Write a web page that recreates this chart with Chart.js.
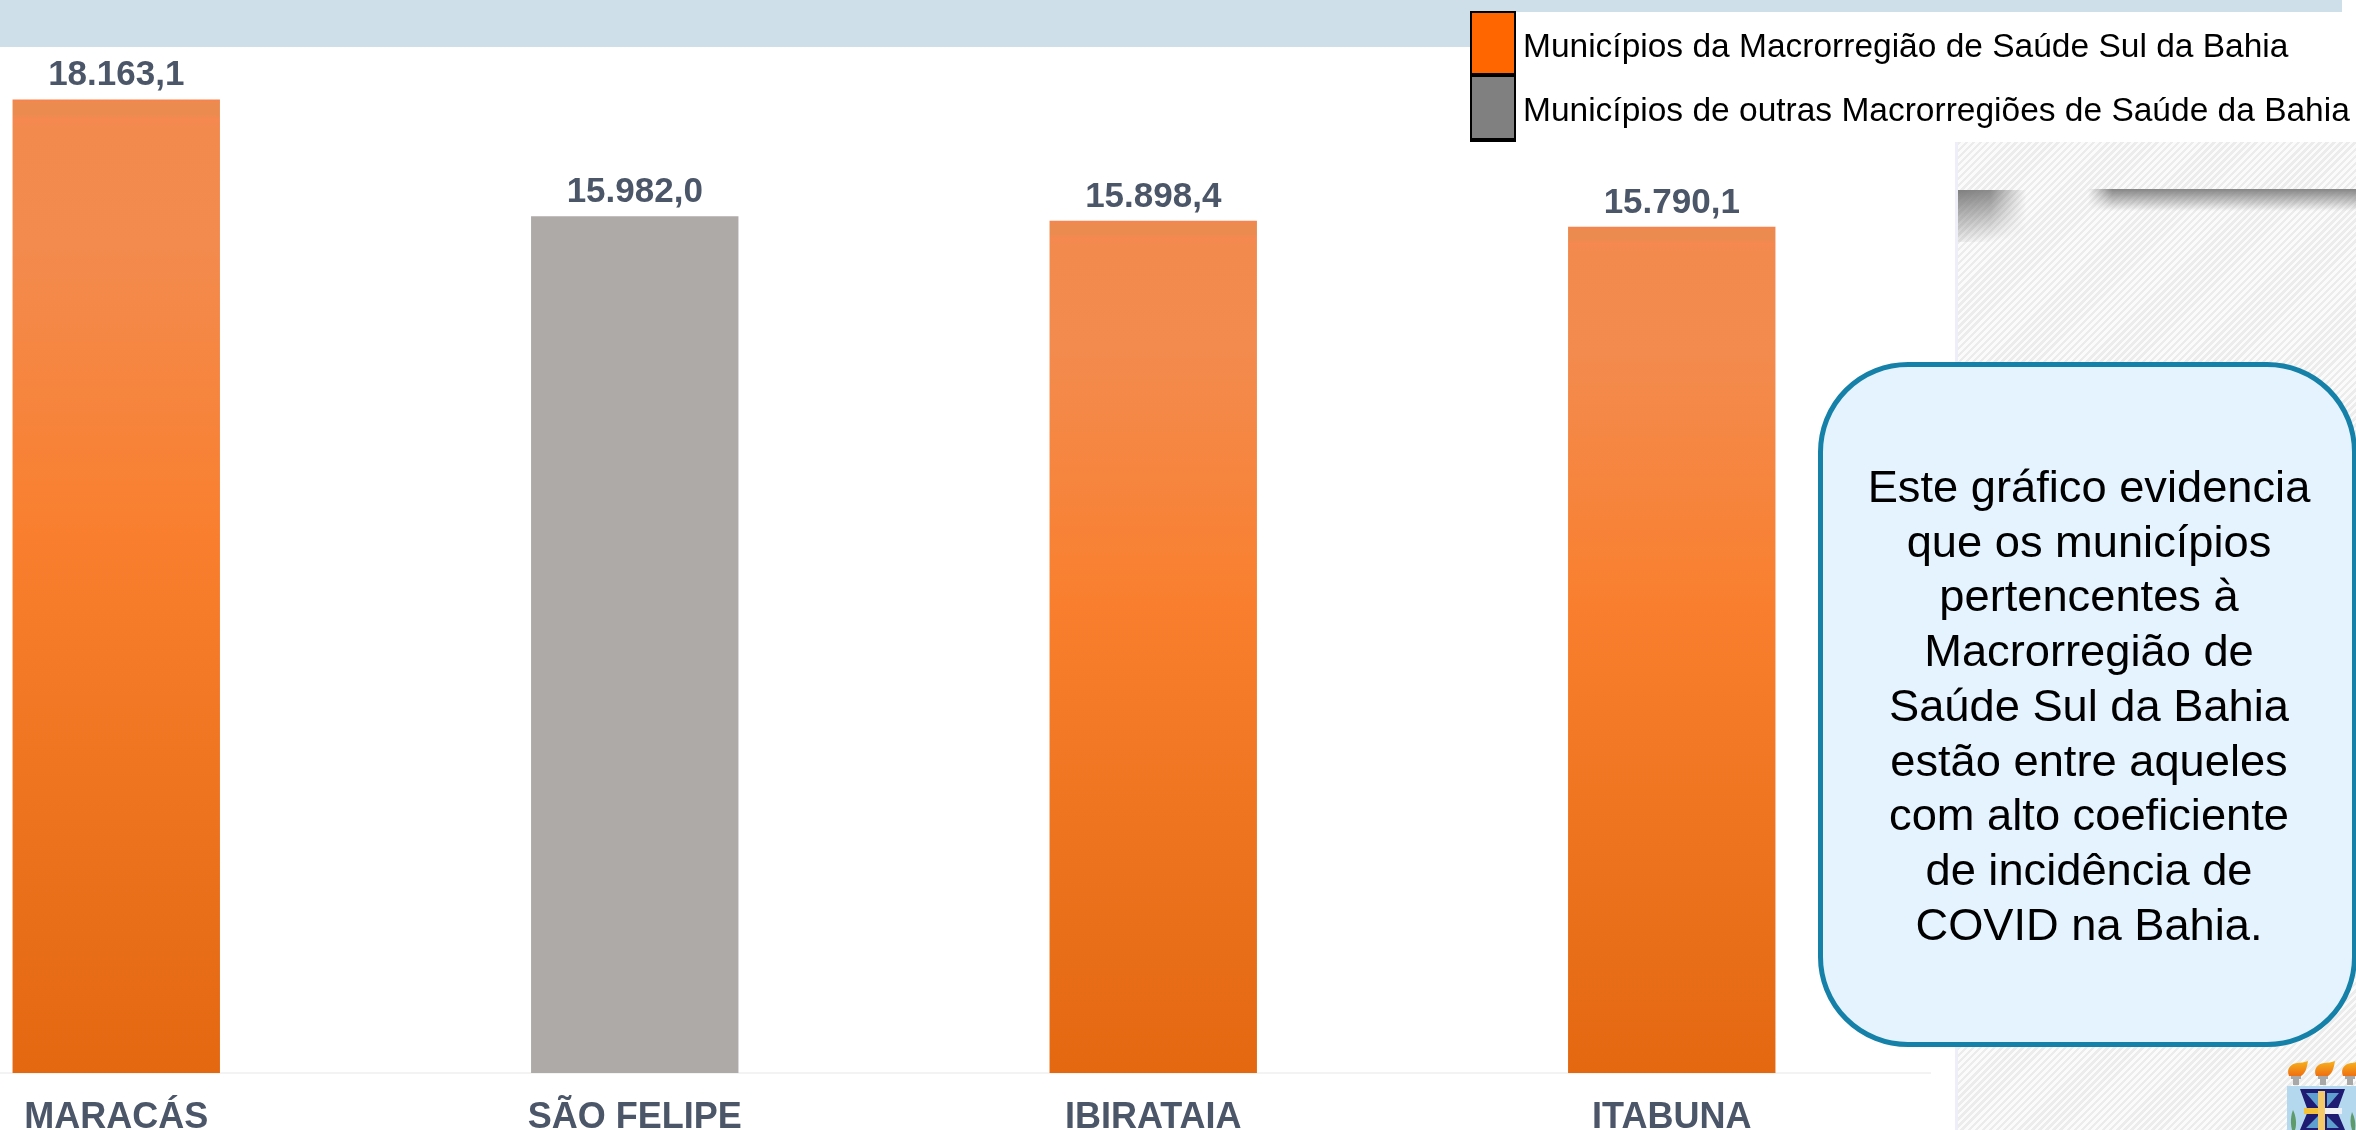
<!DOCTYPE html>
<html lang="pt-BR">
<head>
<meta charset="UTF-8">
<title>Coeficiente de incidência</title>
<script src="https://cdn.jsdelivr.net/npm/chart.js"></script>
<style>
  html, body { margin: 0; padding: 0; background: #fff; overflow: hidden; }
  body { width: 2356px; height: 1130px; position: relative; font-family: "Liberation Sans", Arial, sans-serif; }
  .abs { position: absolute; }
  #faixa1 { left: 0; top: 0; width: 1470px; height: 47px; background: #cfdfe9; }
  #faixa2 { left: 1470px; top: 0; width: 872px; height: 12px; background: #cfdfe9; }
  #hachura {
    left: 1955px; top: 142px; width: 401px; height: 988px; box-sizing: border-box;
    border-left: 3px solid #eeeef8;
    background: repeating-linear-gradient(135deg, #ececec 0, #ececec 2.5px, #fbfbfb 2.5px, #fbfbfb 5px);
  }
  #sombra1 {
    left: 1958px; top: 190px; width: 72px; height: 52px;
    background: linear-gradient(170deg, #7f7f7f 0, rgba(200,200,200,0) 90%);
    -webkit-mask-image: linear-gradient(to right, #000 45%, transparent 95%);
  }
  #sombra2 {
    left: 2088px; top: 189px; width: 268px; height: 22px;
    background: linear-gradient(180deg, #858585 0, rgba(200,200,200,0) 100%);
    -webkit-mask-image: linear-gradient(to right, transparent 0, #000 9%);
  }
  #canvasBox { left: -143px; top: 0; width: 2074px; height: 1130px; }
  .cx { left: 1470px; width: 46px; box-sizing: border-box; border: 2px solid #000; }
  #cx1 { top: 11px; height: 66px; background: #ff6600; border-bottom-width: 4px; }
  #cx2 { top: 77px; height: 65px; background: #808080; border-top: 0; border-bottom-width: 4px; }
  .leg { left: 1523px; font-size: 33.5px; line-height: 40px; color: #000; white-space: nowrap; }
  #balao {
    left: 1818px; top: 362px; width: 539px; height: 685px; box-sizing: border-box;
    background: #e5f3fe; border: 5.5px solid #1580a8; border-radius: 90px;
  }
  #balaoTexto {
    left: 1831px; top: 460px; width: 516px; text-align: center;
    font-size: 45.25px; line-height: 54.7px; color: #000;
  }
</style>
</head>
<body>
  <div class="abs" id="faixa1"></div>
  <div class="abs" id="faixa2"></div>
  <div class="abs" id="hachura"></div>
  <div class="abs" id="sombra1"></div>
  <div class="abs" id="sombra2"></div>

  <div class="abs" id="canvasBox"><canvas id="grafico"></canvas></div>

  <div class="abs cx" id="cx1"></div>
  <div class="abs cx" id="cx2"></div>
  <div class="abs leg" id="leg1" style="top:26px"></div>
  <div class="abs leg" id="leg2" style="top:90px"></div>

  <div class="abs" id="balao"></div>
  <div class="abs" id="balaoTexto"></div>

  <!-- brasao -->
  <svg class="abs" style="left:2260px;top:1040px" width="96" height="90" viewBox="0 0 96 90">
    <defs>
      <linearGradient id="chama" x1="0" y1="0" x2="0" y2="1">
        <stop offset="0" stop-color="#f7b21c"/><stop offset="1" stop-color="#ee6f12"/>
      </linearGradient>
    </defs>
    <g fill="url(#chama)">
      <path d="M29 36 C26 28 31 24 37 23 C41 23 45 22 48 21 C47 28 45 34 41 36 Z"/>
      <path d="M56 36 C53 28 58 24 64 23 C68 23 72 22 75 21 C74 28 72 34 68 36 Z"/>
      <path d="M83 36 C80 28 85 24 91 23 C95 23 96 22 96 22 L96 36 Z"/>
    </g>
    <g fill="#a8a8a8">
      <rect x="31" y="36" width="10" height="3"/><rect x="33" y="39" width="6" height="6"/>
      <rect x="58" y="36" width="10" height="3"/><rect x="60" y="39" width="6" height="6"/>
      <rect x="85" y="36" width="10" height="3"/><rect x="87" y="39" width="6" height="6"/>
    </g>
    <rect x="27" y="46" width="69" height="44" fill="#b4d8ee"/>
    <path d="M32 90 C30 82 31 75 33 70 C36 76 37 84 35 90 Z" fill="#5f9a6a"/>
    <path d="M92 90 C90 84 90 78 92 72 C95 78 96 84 95 90 Z" fill="#5f9a6a"/>
    <path d="M40 49 H85 L77 71 L85 90 H40 L48 71 Z" fill="#1f1a72"/>
    <path d="M46 53 L58 53 L58 67 Z M79 53 L67 53 L67 67 Z M46 88 L58 88 L58 76 Z M79 88 L67 88 L67 76 Z" fill="#5f9fd0"/>
    <rect x="44" y="68" width="38" height="6" fill="#f3c13a"/>
    <rect x="65" y="68" width="17" height="6" fill="#eef0f6"/>
    <rect x="58" y="51" width="7" height="39" fill="#f3c96a"/>
  </svg>

<script>
  const municipios = ['MARACÁS', 'SÃO FELIPE', 'IBIRATAIA', 'ITABUNA'];
  const coeficientes = [18163.1, 15982.0, 15898.4, 15790.1];
  const rotulos = ['18.163,1', '15.982,0', '15.898,4', '15.790,1'];
  const macroSul = [true, false, true, true];

  const legendaTextos = [
    'Municípios da Macrorregião de Saúde Sul da Bahia',
    'Municípios de outras Macrorregiões de Saúde da Bahia'
  ];
  const balaoLinhas = [
    'Este gráfico evidencia', 'que os municípios', 'pertencentes à', 'Macrorregião de',
    'Saúde Sul da Bahia', 'estão entre aqueles', 'com alto coeficiente', 'de incidência de',
    'COVID na Bahia.'
  ];

  document.getElementById('leg1').textContent = legendaTextos[0];
  document.getElementById('leg2').textContent = legendaTextos[1];
  document.getElementById('balaoTexto').innerHTML = balaoLinhas.join('<br>');

  const corTexto = '#4b5668';

  function corBarra(context) {
    const i = context.dataIndex;
    if (!macroSul[i]) return '#aeaaa8';
    const area = context.chart.chartArea;
    if (!area) return '#f57f2c';
    const topo = context.chart.scales.y.getPixelForValue(coeficientes[i]);
    const g = context.chart.ctx.createLinearGradient(0, topo, 0, area.bottom);
    g.addColorStop(0, '#f8834f');
    g.addColorStop(0.004, '#ec8b50');
    g.addColorStop(0.016, '#ec8b50');
    g.addColorStop(0.02, '#f68850');
    g.addColorStop(0.03, '#f28a4d');
    g.addColorStop(0.15, '#f38b4e');
    g.addColorStop(0.45, '#f97f2e');
    g.addColorStop(1, '#e36810');
    return g;
  }

  // valores em cima das barras
  const rotulosPlugin = {
    id: 'rotulos',
    afterDatasetsDraw(chart) {
      const ctx = chart.ctx;
      const meta = chart.getDatasetMeta(0);
      ctx.save();
      ctx.font = 'bold 35px "Liberation Sans"';
      ctx.fillStyle = corTexto;
      ctx.textAlign = 'center';
      ctx.textBaseline = 'alphabetic';
      meta.data.forEach((barra, i) => {
        ctx.fillText(rotulos[i], barra.x, barra.y - 14);
      });
      ctx.restore();
    }
  };

  const ctx = document.getElementById('grafico').getContext('2d');
  new Chart(ctx, {
    type: 'bar',
    data: {
      labels: municipios,
      datasets: [{
        data: coeficientes,
        backgroundColor: corBarra,
        barPercentage: 0.4,
        categoryPercentage: 1
      }]
    },
    plugins: [rotulosPlugin],
    options: {
      responsive: true,
      maintainAspectRatio: false,
      animation: false,
      layout: { padding: { top: 1, left: 0, right: 0, bottom: 0 } },
      plugins: { legend: { display: false }, tooltip: { enabled: false } },
      scales: {
        x: {
          afterFit(scale) { scale.height = 57; },
          grid: { display: false, drawTicks: false },
          border: { display: true, color: '#f3f3f3', width: 2 },
          ticks: {
            color: corTexto,
            padding: 23,
            maxRotation: 0,
            autoSkip: false,
            font: { family: '"Liberation Sans"', weight: 'bold', size: 36 }
          }
        },
        y: {
          display: false,
          min: 0,
          max: 20000
        }
      }
    }
  });
</script>
</body>
</html>
